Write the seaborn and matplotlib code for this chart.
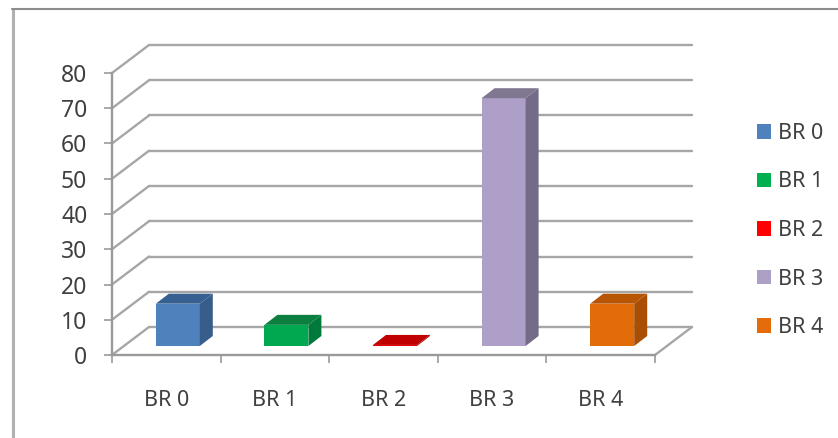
import matplotlib
matplotlib.use("Agg")
import matplotlib.pyplot as plt
import numpy as np
import pandas as pd
import seaborn as sns
from matplotlib.lines import Line2D
from matplotlib.patches import Patch, Polygon
from matplotlib.transforms import Affine2D

# Values and labels
categories = ["BR 0", "BR 1", "BR 2", "BR 3", "BR 4"]
values = [12, 6, 0.3, 70.3, 12]
y_ticks = [0, 10, 20, 30, 40, 50, 60, 70, 80]

# Shades for each column: front, side and top faces, plus legend swatch
front_colors = ["#4F81BD", "#00A84F", "#E8000B", "#AE9FC9", "#E36C0A"]
side_colors = ["#385D8A", "#007A3A", "#A00000", "#736B87", "#A84F05"]
top_colors = ["#366092", "#0A7F40", "#C00000", "#7F7890", "#B85505"]
legend_colors = ["#4F81BD", "#00B050", "#FF0000", "#ACA0C6", "#E46C0A"]

GRID = "#A6A6A6"
AXIS = "#999999"
TEXT = "#404040"

sns.set_theme(style="white")
plt.rcParams["font.family"] = ["Noto Sans", "DejaVu Sans"]

fig = plt.figure(figsize=(8.38, 4.38), dpi=100)
W, H = 838, 438
ax = fig.add_axes([112 / W, (H - 355) / H, 543 / W, 282 / H])

df = pd.DataFrame({"group": categories, "value": values})
sns.barplot(data=df, x="group", y="value", hue="group", palette=front_colors,
            width=0.405, dodge=False, legend=False, saturation=1, ax=ax, zorder=3)

ax.set_xlim(-0.5, 4.5)
ax.set_ylim(0, 80)
ax.set_xlabel("")
ax.set_ylabel("")

# Pixel offsets of the pseudo-3D depth expressed in data units
px_x = 5 / 543
px_y = 80 / 282
wall_dx, wall_dy = 37 * px_x, 28 * px_y
bar_dx, bar_dy = 11.5 * px_x, 9 * px_y
deep_dx, deep_dy = 13 * px_x, 10 * px_y
half = 0.405 / 2

# Back wall gridlines with their slanted runs to the front axis
for v in y_ticks:
    ax.plot([-0.5 + wall_dx, 4.5 + wall_dx], [v + wall_dy, v + wall_dy],
            color=GRID, lw=1.7, zorder=1, clip_on=False)
    ax.plot([-0.5, -0.5 + wall_dx], [v, v + wall_dy],
            color=GRID, lw=1.7, zorder=1, clip_on=False)
ax.plot([4.5, 4.5 + wall_dx], [0, wall_dy], color=GRID, lw=1.7, zorder=1, clip_on=False)

# Front faces sit partway into the floor; side and top faces extrude behind them
shift = Affine2D().translate(bar_dx, bar_dy) + ax.transData
for bar in ax.patches:
    bar.set_transform(shift)
    bar.set_clip_on(False)
    bar.set_linewidth(0)

for i, v in enumerate(values):
    xl = i - half + bar_dx
    xr = i + half + bar_dx
    y0 = bar_dy
    yt = v + bar_dy
    ax.add_patch(Polygon([(xr, y0), (xr + deep_dx, y0 + deep_dy),
                          (xr + deep_dx, yt + deep_dy), (xr, yt)],
                         closed=True, fc=side_colors[i], ec="none", zorder=3, clip_on=False))
    ax.add_patch(Polygon([(xl, yt), (xr, yt), (xr + deep_dx, yt + deep_dy),
                          (xl + deep_dx, yt + deep_dy)],
                         closed=True, fc=top_colors[i], ec="none", zorder=3, clip_on=False))

# Axes, ticks and labels
sns.despine(ax=ax, top=True, right=True)
for side in ("left", "bottom"):
    ax.spines[side].set_color(AXIS)
    ax.spines[side].set_linewidth(1.7)
    ax.spines[side].set_zorder(2)

ax.set_yticks(y_ticks)
ax.tick_params(axis="y", which="major", left=True, length=5.8, width=1.2, color=AXIS,
               pad=12, labelsize=16.5, labelcolor=TEXT)
ax.set_xticks(range(len(categories)))
ax.set_xticklabels(categories)
ax.set_xticks(np.arange(len(categories) + 1) - 0.5, minor=True)
ax.tick_params(axis="x", which="major", bottom=False, length=0, pad=25,
               labelsize=15.5, labelcolor=TEXT)
ax.tick_params(axis="x", which="minor", bottom=True, length=5.5, width=1.2, color=AXIS)

# Legend column to the right of the plot
handles = [Patch(fc=c, ec="none", label=n) for c, n in zip(legend_colors, categories)]
fig.legend(handles=handles, loc="center left", frameon=False,
           bbox_to_anchor=(757 / W, (H - 230.5) / H), fontsize=15.5, labelcolor=TEXT,
           handlelength=0.65, handleheight=0.65, handletextpad=0.33,
           labelspacing=1.28, borderpad=0, borderaxespad=0)

# Outer chart frame, open at the right and bottom edges
fig.add_artist(Line2D([12.5 / W, 12.5 / W], [0, (H - 9) / H], color="#B0B0B0", lw=2.2))
fig.add_artist(Line2D([11.5 / W, 1], [(H - 9) / H, (H - 9) / H], color="#8C8C8C", lw=1.5))

fig.savefig("out.png", dpi=100)
